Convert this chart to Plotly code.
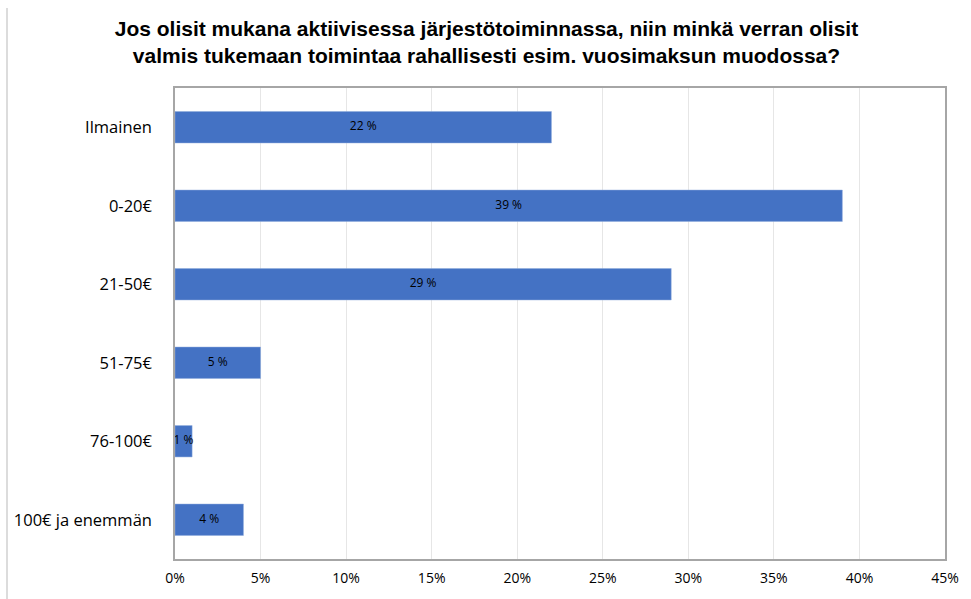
import plotly.graph_objects as go

categories = ["Ilmainen", "0-20€", "21-50€", "51-75€", "76-100€", "100€ ja enemmän"]
shares = [22, 39, 29, 5, 1, 4]
bar_labels = ["22 %", "39 %", "29 %", "5 %", "1 %", "4 %"]
tick_values = [0, 5, 10, 15, 20, 25, 30, 35, 40, 45]
tick_labels = ["0%", "5%", "10%", "15%", "20%", "25%", "30%", "35%", "40%", "45%"]

title_text = ("Jos olisit mukana aktiivisessa järjestötoiminnassa, niin minkä verran olisit<br>"
              "valmis tukemaan toimintaa rahallisesti esim. vuosimaksun muodossa?")

font_family = "Liberation Sans Narrow, Liberation Sans, Arial, sans-serif"

fig = go.Figure()
fig.add_trace(go.Bar(
    x=shares, y=categories, orientation="h", width=0.4,
    marker=dict(color="#4472C4", line=dict(color="#8FAADC", width=0.5)),
    hoverinfo="skip", showlegend=False
))
# value labels centred on each bar (allowed to spill past short bars)
fig.add_trace(go.Scatter(
    x=[v / 2 for v in shares], y=categories, mode="text", text=bar_labels,
    textfont=dict(family="Open Sans, sans-serif", size=12, color="#000000"),
    hoverinfo="skip", showlegend=False
))

# figure fills the browser viewport (size comes from the page, not fixed here)
fig.update_layout(
    autosize=True,
    paper_bgcolor="white", plot_bgcolor="white",
    margin=dict(l=175, r=16, t=88, b=28),
    title=dict(text=title_text, x=0.501, xanchor="center", yref="container", y=0.94, yanchor="top",
               font=dict(family=font_family, size=21, color="#000000", weight="bold")),
    font=dict(family="Open Sans, sans-serif", color="#000000"),
)
fig.update_xaxes(
    range=[0, 45], tickvals=tick_values, ticktext=tick_labels, ticklabeloverflow="allow",
    ticklabelstandoff=5,
    showgrid=True, gridcolor="#E6E6E6", gridwidth=1,
    showline=True, linecolor="#A6A6A6", linewidth=1.5, mirror=True,
    zeroline=False, ticks="", tickfont=dict(size=14), fixedrange=True,
)
fig.update_yaxes(
    categoryorder="array", categoryarray=categories, autorange="reversed",
    showgrid=False, showline=True, linecolor="#A6A6A6", linewidth=1.5, mirror=True,
    ticks="", ticklabelstandoff=18, tickfont=dict(size=16.5), fixedrange=True,
)
# thin frame edge on the far left of the picture
fig.add_shape(type="line", xref="paper", xsizemode="pixel", xanchor=0,
              x0=-168, x1=-168, yref="paper", y0=-1, y1=1.17,
              line=dict(color="#D0D0D0", width=1.5))

# drop the default page margin / scrollbars so the figure fills the window exactly
page_fix = ("document.body.style.margin='0';"
            "document.body.style.overflow='hidden';"
            "document.documentElement.style.overflow='hidden';")
fig.write_html("out.html", config={"displayModeBar": False, "responsive": True},
               default_width="100vw", default_height="100vh", post_script=page_fix)
